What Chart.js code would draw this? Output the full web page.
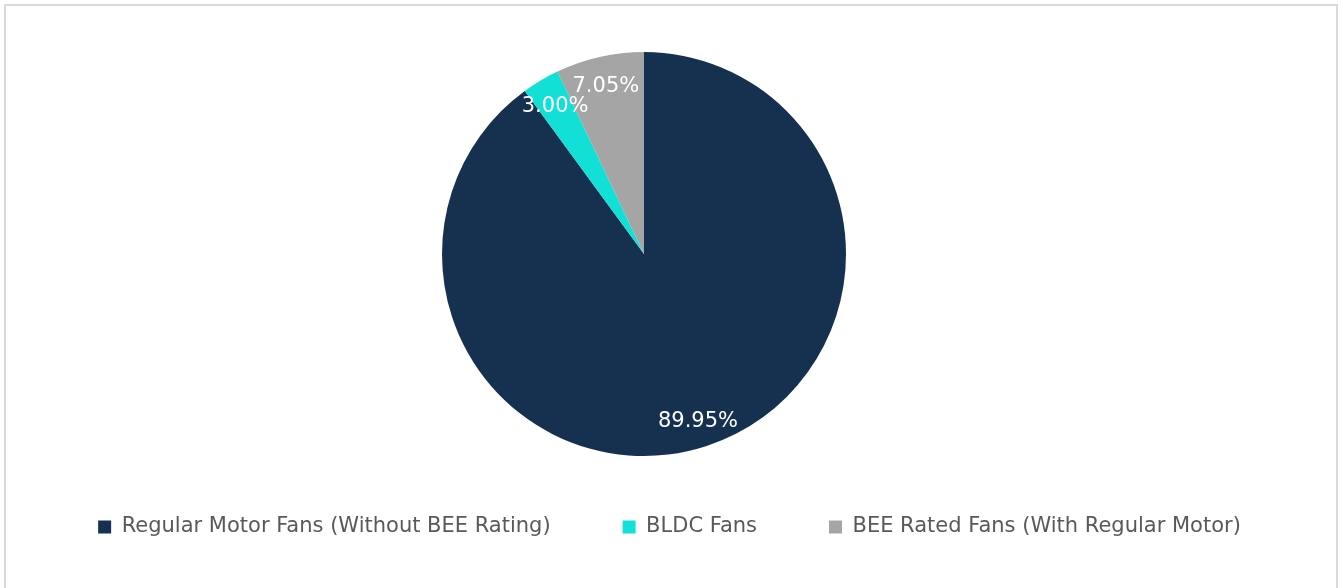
<!DOCTYPE html>
<html>
<head>
<meta charset="utf-8">
<script src="https://cdn.jsdelivr.net/npm/chart.js@4/dist/chart.umd.min.js"></script>
<style>
  html, body { margin: 0; padding: 0; background: #ffffff; }
  #marco { position: absolute; left: 4px; top: 4px; width: 1330px; height: 700px; border: 2px solid #d9d9d9; }
  #grafica { position: absolute; left: 0; top: 0; }
</style>
</head>
<body>
<div id="marco"></div>
<canvas id="grafica" width="1343" height="588"></canvas>
<script>
// Datos de la gráfica
const categorias = [
  "Regular Motor Fans (Without BEE Rating)",
  "BLDC Fans",
  "BEE Rated Fans (With Regular Motor)"
];
const porcentajes = [89.95, 3.00, 7.05];
const colores = ['#16314f', '#12dfd5', '#a5a5a5'];

const fuente = '"DejaVu Sans", Verdana, sans-serif';

// Etiquetas de porcentaje dentro de cada porción
const etiquetasPlugin = {
  id: 'etiquetas',
  afterDatasetsDraw(chart) {
    const ctx = chart.ctx;
    const meta = chart.getDatasetMeta(0);
    ctx.save();
    ctx.font = '21px ' + fuente;
    ctx.fillStyle = '#ffffff';
    ctx.textAlign = 'center';
    ctx.textBaseline = 'middle';
    meta.data.forEach((arco, i) => {
      const { x, y, startAngle, endAngle, outerRadius } =
        arco.getProps(['x', 'y', 'startAngle', 'endAngle', 'outerRadius'], true);
      const medio = (startAngle + endAngle) / 2;
      const r = outerRadius * 0.86;
      // +2 px para compensar la línea base "middle"
      ctx.fillText(porcentajes[i].toFixed(2) + '%', x + Math.cos(medio) * r, y + Math.sin(medio) * r + 2);
    });
    ctx.restore();
  }
};

// La leyenda va centrada en todo el ancho y un poco más abajo
const leyendaPlugin = {
  id: 'leyendaCentrada',
  afterLayout(chart) {
    const leyenda = chart.legend;
    leyenda.left = -2;
    leyenda.right = chart.width - 2;
    leyenda.width = chart.width;
    leyenda.top = 527 - leyenda.options.labels.padding - 10.5;
    leyenda.bottom = leyenda.top + leyenda.height;
  }
};

const ctx = document.getElementById("grafica").getContext("2d");

new Chart(ctx, {
  type: 'pie',
  data: {
    labels: categorias,
    datasets: [{
      data: porcentajes,
      backgroundColor: colores,
      borderWidth: 0,
      radius: 202,
      clip: false
    }]
  },
  options: {
    responsive: false,
    animation: false,
    devicePixelRatio: 1,
    layout: { padding: { top: 23, right: 55, left: 0, bottom: 0 } },
    plugins: {
      tooltip: { enabled: false },
      legend: {
        position: 'bottom',
        labels: {
          boxWidth: 13,
          boxHeight: 13,
          padding: 72,
          color: '#595959',
          font: { family: fuente, size: 21 }
        }
      }
    }
  },
  plugins: [etiquetasPlugin, leyendaPlugin]
});
</script>
</body>
</html>
